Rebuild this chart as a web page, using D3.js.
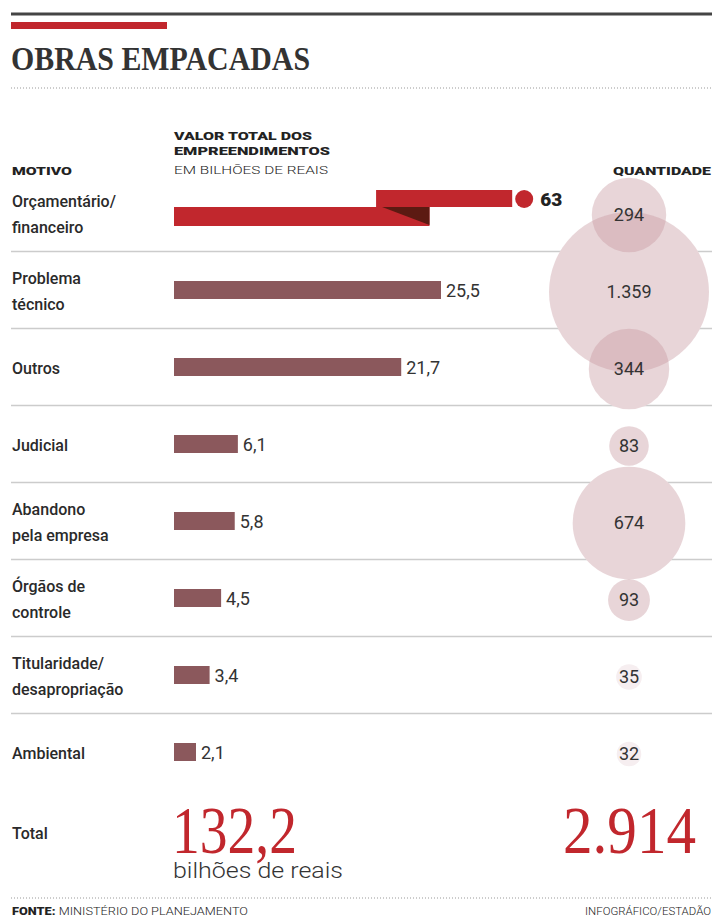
<!DOCTYPE html>
<html>
<head>
<meta charset="utf-8">
<script src="https://cdn.jsdelivr.net/npm/d3@7"></script>
<style>
  body { margin: 0; background: #fff; }
  svg { display: block; }
  .lbl { font-family: Roboto, sans-serif; font-weight: 500; font-size: 16px; fill: #2a2a2a; }
  .val { font-family: Roboto, sans-serif; font-weight: 400; font-size: 18px; fill: #333; }
  .hdr { font-family: Roboto, sans-serif; font-size: 11px; fill: #222; }
</style>
</head>
<body>
<div id="chart"></div>
<script>
// dados
var motivos = [
  ["Orçamentário/", "financeiro"],
  ["Problema", "técnico"],
  ["Outros"],
  ["Judicial"],
  ["Abandono", "pela empresa"],
  ["Órgãos de", "controle"],
  ["Titularidade/", "desapropriação"],
  ["Ambiental"]
];
var valores = [63, 25.5, 21.7, 6.1, 5.8, 4.5, 3.4, 2.1];
var quantidades = [294, 1359, 344, 83, 674, 93, 35, 32];
var totalValor = 132.2;
var totalQuantidade = 2914;

var W = 712, H = 922;
var red = "#c1272d", mauve = "#8b585c";

var br = d3.formatLocale({decimal: ",", thousands: ".", grouping: [3], currency: ["R$", ""]});
var fmtVal = br.format(".1~f"), fmtQtd = br.format(",d"), fmtTot = br.format(".1f");

var svg = d3.select("#chart").append("svg")
  .attr("width", W).attr("height", H);

// topo
svg.append("line").attr("x1", 11).attr("x2", W).attr("y1", 14).attr("y2", 14)
  .attr("stroke", "#444").attr("stroke-width", 3);
svg.append("rect").attr("x", 11).attr("y", 22).attr("width", 156).attr("height", 7).attr("fill", red);
svg.append("text").attr("x", 11).attr("y", 70)
  .attr("font-family", "'Liberation Serif', serif").attr("font-weight", "bold")
  .attr("font-size", 33).attr("fill", "#333")
  .attr("textLength", 299).attr("lengthAdjust", "spacingAndGlyphs")
  .text("OBRAS EMPACADAS");
svg.append("line").attr("x1", 11).attr("x2", W).attr("y1", 88).attr("y2", 88)
  .attr("stroke", "#999").attr("stroke-dasharray", "1,2");

// cabeçalhos
svg.append("text").attr("class", "hdr").attr("x", 12).attr("y", 175).attr("font-weight", 900)
  .attr("textLength", 60).attr("lengthAdjust", "spacingAndGlyphs").text("MOTIVO");
svg.append("text").attr("class", "hdr").attr("x", 174).attr("y", 140).attr("font-weight", 900)
  .attr("textLength", 138).attr("lengthAdjust", "spacingAndGlyphs").text("VALOR TOTAL DOS");
svg.append("text").attr("class", "hdr").attr("x", 174).attr("y", 155).attr("font-weight", 900)
  .attr("textLength", 156).attr("lengthAdjust", "spacingAndGlyphs").text("EMPREENDIMENTOS");
svg.append("text").attr("class", "hdr").attr("x", 174).attr("y", 174).attr("font-weight", 300)
  .attr("textLength", 154).attr("lengthAdjust", "spacingAndGlyphs").text("EM BILHÕES DE REAIS");
svg.append("text").attr("class", "hdr").attr("x", 613).attr("y", 175).attr("font-weight", 900)
  .attr("textLength", 98).attr("lengthAdjust", "spacingAndGlyphs").text("QUANTIDADE");

// escalas
var x = d3.scaleLinear().domain([0, 25.5]).range([174, 441]);
var y = d3.scalePoint().domain(d3.range(motivos.length)).range([213, 752]);
var step = y.step();
var r = d3.scaleSqrt().domain([0, 1359]).range([0, 80]);
var cx = 629;

// separadores
svg.append("g").selectAll("line")
  .data(d3.range(motivos.length - 1))
  .enter().append("line")
    .attr("x1", 11).attr("x2", W)
    .attr("y1", function(i) { return y(i) + step / 2; })
    .attr("y2", function(i) { return y(i) + step / 2; })
    .attr("stroke", "#ccc").attr("stroke-width", 1.6);

// rótulos
motivos.forEach(function(m, i) {
  var t = svg.append("text").attr("class", "lbl");
  if (m.length === 1) {
    t.attr("x", 12).attr("y", y(i) + 7).text(m[0]);
  } else {
    t.append("tspan").attr("x", 12).attr("y", y(i) - 6).text(m[0]);
    t.append("tspan").attr("x", 12).attr("y", y(i) + 20).text(m[1]);
  }
});

// barras normais
var resto = d3.range(1, valores.length);
svg.append("g").selectAll("rect")
  .data(resto)
  .enter().append("rect")
    .attr("x", x(0))
    .attr("y", function(i) { return y(i) - 9; })
    .attr("width", function(i) { return x(valores[i]) - x(0); })
    .attr("height", 18)
    .attr("fill", mauve);
svg.append("g").selectAll("text")
  .data(resto)
  .enter().append("text")
    .attr("class", "val")
    .attr("x", function(i) { return x(valores[i]) + 5; })
    .attr("y", function(i) { return y(i) + 7; })
    .text(function(i) { return fmtVal(valores[i]); });

// barra quebrada (63)
var quebra = 24.4, retoma = 50, recuo = 5.1;
var y0 = y(0);
var xb = x(quebra), xu0 = x(quebra - recuo), xu1 = xu0 + (x(valores[0]) - x(retoma));
svg.append("rect").attr("x", xu0).attr("y", y0 - 23).attr("width", xu1 - xu0).attr("height", 17).attr("fill", red);
svg.append("rect").attr("x", x(0)).attr("y", y0 - 6).attr("width", xb - x(0)).attr("height", 19).attr("fill", red);
svg.append("path")
  .attr("d", "M" + (xu0 + 6) + "," + (y0 - 6) + "L" + xb + "," + (y0 - 6) + "L" + xb + "," + (y0 + 12) + "Z")
  .attr("fill", "#5c1a12");
svg.append("circle").attr("cx", xu1 + 12).attr("cy", y0 - 14).attr("r", 9).attr("fill", red);
svg.append("text").attr("x", xu1 + 28).attr("y", y0 - 7)
  .attr("font-family", "Roboto, sans-serif").attr("font-weight", 900).attr("font-size", 19)
  .attr("fill", "#222").text(fmtVal(valores[0]));

// círculos de quantidade
var qg = svg.append("g");
qg.selectAll("circle.bg")
  .data(d3.range(quantidades.length))
  .enter().append("circle")
    .attr("class", "bg")
    .attr("cx", cx).attr("cy", function(i) { return y(i) + 2; })
    .attr("r", function(i) { return r(quantidades[i]); })
    .attr("fill", "#fff");
qg.selectAll("circle.fg")
  .data(d3.range(quantidades.length))
  .enter().append("circle")
    .attr("class", "fg")
    .attr("cx", cx).attr("cy", function(i) { return y(i) + 2; })
    .attr("r", function(i) { return r(quantidades[i]); })
    .attr("fill", function(i) { return quantidades[i] < 50 ? "#f6eef0" : "#c99aa3"; })
    .attr("fill-opacity", function(i) { return quantidades[i] < 50 ? 1 : 0.42; });
qg.selectAll("text")
  .data(d3.range(quantidades.length))
  .enter().append("text")
    .attr("class", "val")
    .attr("x", cx).attr("y", function(i) { return y(i) + 8; })
    .attr("text-anchor", "middle")
    .attr("fill", "#3a3a3a")
    .text(function(i) { return fmtQtd(quantidades[i]); });

// total
svg.append("text").attr("class", "lbl").attr("x", 12).attr("y", 839).text("Total");
svg.append("text").attr("transform", "translate(172,853) scale(1,1.13)")
  .attr("font-family", "'Liberation Serif', serif").attr("font-size", 60).attr("fill", red)
  .attr("textLength", 125).attr("lengthAdjust", "spacingAndGlyphs")
  .text(fmtTot(totalValor));
svg.append("text").attr("x", 173).attr("y", 878)
  .attr("font-family", "Roboto, sans-serif").attr("font-weight", 300).attr("font-size", 22).attr("fill", "#333")
  .attr("textLength", 170).attr("lengthAdjust", "spacingAndGlyphs")
  .text("bilhões de reais");
svg.append("text").attr("transform", "translate(563,853) scale(1,1.13)")
  .attr("font-family", "'Liberation Serif', serif").attr("font-size", 60).attr("fill", red)
  .attr("textLength", 133).attr("lengthAdjust", "spacingAndGlyphs")
  .text(fmtQtd(totalQuantidade));

// rodapé
svg.append("line").attr("x1", 11).attr("x2", W).attr("y1", 898).attr("y2", 898)
  .attr("stroke", "#999").attr("stroke-dasharray", "1,2");
var rod = svg.append("text").attr("class", "hdr").attr("x", 12).attr("y", 915).attr("font-size", 9)
  .attr("textLength", 236).attr("lengthAdjust", "spacingAndGlyphs");
rod.append("tspan").attr("font-weight", 900).text("FONTE: ");
rod.append("tspan").attr("font-weight", 300).text("MINISTÉRIO DO PLANEJAMENTO");
svg.append("text").attr("class", "hdr").attr("x", 711).attr("y", 915).attr("font-size", 9)
  .attr("text-anchor", "end").attr("font-weight", 300)
  .attr("textLength", 126).attr("lengthAdjust", "spacingAndGlyphs")
  .text("INFOGRÁFICO/ESTADÃO");
</script>
</body>
</html>
